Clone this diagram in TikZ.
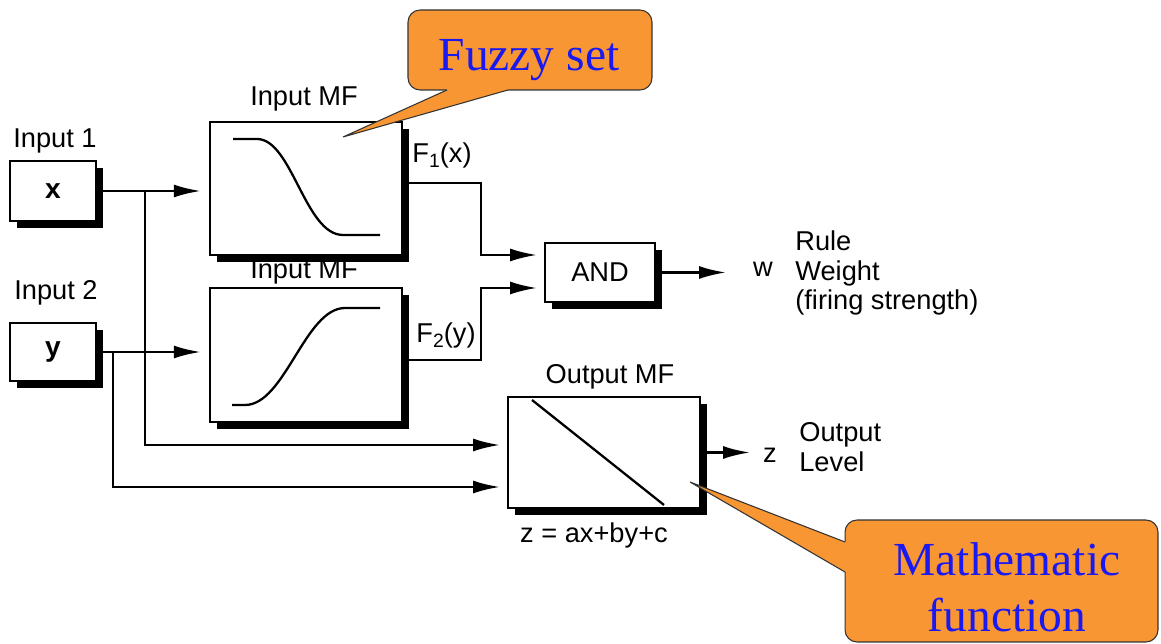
\documentclass[tikz,border=0pt]{standalone}
\usepackage{fontspec}
\setmainfont{Liberation Sans}
\newfontfamily\calloutfont{Liberation Serif}
\usetikzlibrary{arrows.meta,shadows}
\definecolor{calloutorange}{RGB}{249,150,52}
\definecolor{calloutblue}{RGB}{25,25,240}
\begin{document}
\begin{tikzpicture}[x=0.02cm,y=-0.02cm,
  lbl/.style={font=\fontsize{15.5}{17}\selectfont, inner sep=0pt},
  blk/.style={draw=black, line width=1.4pt, fill=white, inner sep=0pt,
    font=\fontsize{16}{17}\selectfont\bfseries,
    drop shadow={shadow xshift=0.14cm, shadow yshift=-0.14cm, opacity=1, fill=black}},
  wire/.style={line width=1.4pt},
  curve/.style={line width=1.3pt},
  arr/.style={wire, -{Latex[length=0.54cm,width=0.26cm]}, shorten >=0.16cm},
  freearr/.style={wire, -{Latex[length=0.54cm,width=0.26cm]}},
  calloutbox/.style={draw=black!80, line width=0.6pt, fill=calloutorange, rounded corners=0.24cm, inner sep=0pt},
  callouttext/.style={font=\calloutfont\fontsize{27}{32}\selectfont, text=calloutblue, align=center, inner sep=0pt},
  calloutline/.style={draw=black!80, line width=0.6pt},
]
\useasboundingbox (0,0) rectangle (1161,644);

% blocks
\node[blk, minimum width=1.72cm, minimum height=1.2cm] (inx) at (53,191) {x};
\node[blk, minimum width=1.72cm, minimum height=1.16cm] (iny) at (53,352) {y};
\node[blk, minimum width=3.84cm, minimum height=2.66cm] (mf1) at (306,188.5) {};
\node[blk, minimum width=3.84cm, minimum height=2.68cm] (mf2) at (306,355) {};
\node[blk, minimum width=2.2cm, minimum height=1.18cm, font=\fontsize{15.5}{17}\selectfont] (and) at (600,272.5) {AND};
\node[blk, minimum width=3.84cm, minimum height=2.22cm] (omf) at (604,452.5) {};

% curves inside the blocks
\draw[curve] (233,139) -- (257,139) .. controls (292,139) and (305,235) .. (343,235) -- (380,235);
\draw[curve] (232,405) -- (245,405) .. controls (285,405) and (305,308) .. (345,308) -- (380,308);
\draw[curve] (532,400) -- (664,505);

% labels
\node[lbl] (lin1) at (55,141) {Input 1};
\node[lbl] (lin2) at (56,293) {Input 2};
\node[lbl] (lmf1) at (304,99) {Input MF};
\node[lbl] (lmf2) at (304,272) {Input MF};
\node[lbl] (lf1) at (442,155) {F\raisebox{-0.35ex}{\fontsize{11}{11}\selectfont 1}(x)};
\node[lbl] (lf2) at (446,335) {F\raisebox{-0.35ex}{\fontsize{11}{11}\selectfont 2}(y)};
\node[lbl] (lw) at (763,269) {w};
\node[lbl, align=left, anchor=west] (lrule) at (795,273) {Rule\\Weight\\(firing strength)};
\node[lbl] (lomf) at (610,377) {Output MF};
\node[lbl] (lz) at (770,455) {z};
\node[lbl, align=left, anchor=west] (lout) at (799,447) {Output\\Level};
\node[lbl] (leq) at (594,535) {z = ax+by+c};

% connector points
\coordinate (jx) at (145,191);
\coordinate (jy) at (113,352);
\coordinate (omfin1) at (508,445);
\coordinate (omfin2) at (508,487);
\coordinate (f1out) at (402,183);
\coordinate (f1bend) at (481,183);
\coordinate (andin1) at (545,255);
\coordinate (f2out) at (402,360);
\coordinate (f2bend) at (481,360);
\coordinate (andin2) at (545,288);
\coordinate (wtip) at (726,272.5);
\coordinate (ztip) at (750,452.5);

% connectors
\draw[arr] (inx.east) -- (inx.east -| mf1.west);
\draw[arr] (iny.east) -- (iny.east -| mf2.west);
\draw[arr] (jx) |- (omfin1);
\draw[arr] (jy) |- (omfin2);
\draw[arr] (f1out) -- (f1bend) |- (andin1);
\draw[arr] (f2out) -- (f2bend) |- (andin2);
\draw[freearr] (and.east) -- (wtip);
\draw[freearr] (omf.east) -- (ztip);

% callout: Fuzzy set
\node[calloutbox, minimum width=4.88cm, minimum height=1.6cm] (fuzzy) at (530,50) {};
\coordinate (ftip) at (343,137);
\coordinate (fb1) at (447,90);
\coordinate (fb2) at (508,90);
\fill[calloutorange] (fb1) -- (ftip) -- (fb2) -- (508,86) -- (447,86) -- cycle;
\draw[calloutline] (fb1) -- (ftip) -- (fb2);
\node[callouttext] (fuzzytext) at (529,60) {Fuzzy set};

% callout: Mathematic function
\node[calloutbox, minimum width=6.26cm, minimum height=2.44cm] (math) at (1001.5,581) {};
\coordinate (mtip) at (690,482);
\coordinate (mb1) at (845,542);
\coordinate (mb2) at (845,572);
\fill[calloutorange] (mb1) -- (mtip) -- (mb2) -- (849,572) -- (849,542) -- cycle;
\draw[calloutline] (mb1) -- (mtip) -- (mb2);
\node[callouttext] (mathtext) at (1007,587) {Mathematic\\function};
\end{tikzpicture}
\end{document}
